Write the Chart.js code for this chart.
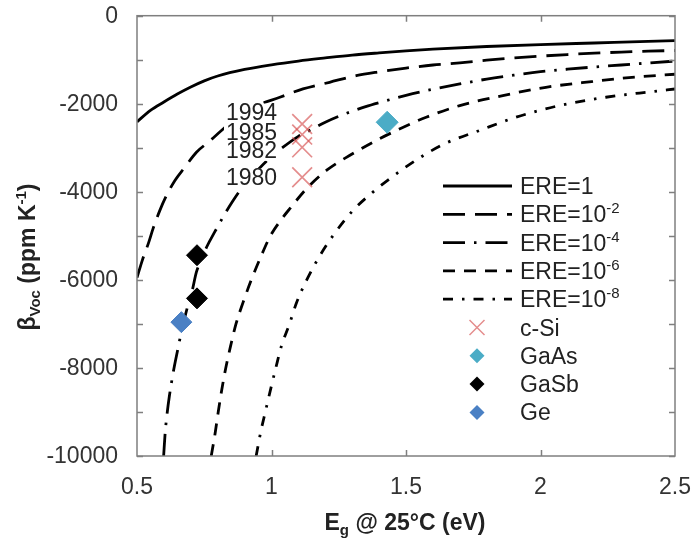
<!DOCTYPE html>
<html><head><meta charset="utf-8">
<script src="https://cdn.jsdelivr.net/npm/chart.js@4.4.1/dist/chart.umd.min.js"></script>
<style>html,body{margin:0;padding:0;background:#fff;}</style>
</head><body>
<canvas id="c" width="692" height="539"></canvas>
<script>
// ---- data ----
const xTicks = [0.5, 1, 1.5, 2, 2.5];
const xTickLabels = ['0.5', '1', '1.5', '2', '2.5'];
const yTicks = [-10000, -8000, -6000, -4000, -2000, 0];
const yTickLabels = ['-10000', '-8000', '-6000', '-4000', '-2000', '0'];
const yMinorTicks = [-9000, -7000, -5000, -3000, -1000];
const xMinorTicks = [1, 1.5, 2];

const ere0X = [0.5, 0.55, 0.6, 0.65, 0.7, 0.75, 0.8, 0.9, 1.0, 1.1, 1.2, 1.3, 1.4, 1.5, 1.6, 1.8, 2.0, 2.2, 2.4, 2.5];
const ere0Y = [-2410, -2150, -1960, -1780, -1620, -1480, -1370, -1220, -1115, -1030, -960, -895, -845, -800, -760, -700, -655, -620, -585, -567];

const ere2X = [0.5, 0.52, 0.542, 0.56, 0.585, 0.61, 0.641, 0.678, 0.721, 0.765, 0.814, 0.87, 0.932, 1.031, 1.117, 1.216, 1.315, 1.4, 1.5, 1.6, 1.7, 1.8, 1.9, 2.0, 2.1, 2.2, 2.3, 2.4, 2.5];
const ere2Y = [-5950, -5550, -5177, -4830, -4422, -4080, -3741, -3440, -3100, -2873, -2608, -2320, -2079, -1852, -1663, -1512, -1361, -1275, -1190, -1120, -1070, -1010, -960, -918, -882, -852, -826, -806, -790];

const ere4X = [0.599, 0.605, 0.612, 0.620, 0.635, 0.651, 0.665, 0.690, 0.705, 0.721, 0.740, 0.759, 0.790, 0.823, 0.855, 0.888, 0.95, 1.0, 1.043, 1.1, 1.15, 1.2, 1.25, 1.3, 1.35, 1.4, 1.5, 1.6, 1.7, 1.8, 1.9, 2.0, 2.1, 2.2, 2.3, 2.4, 2.5];
const ere4Y = [-10000, -9450, -9030, -8655, -8090, -7596, -7180, -6560, -6250, -5820, -5540, -5254, -4900, -4540, -4220, -3930, -3500, -3200, -2986, -2740, -2580, -2420, -2285, -2170, -2065, -1975, -1810, -1670, -1550, -1440, -1350, -1272, -1215, -1165, -1120, -1075, -1030];

const ere6X = [0.776, 0.79, 0.802, 0.815, 0.83, 0.848, 0.868, 0.895, 0.925, 0.96, 0.996, 1.04, 1.068, 1.13, 1.204, 1.29, 1.40, 1.49, 1.575, 1.70, 1.86, 2.02, 2.19, 2.34, 2.50];
const ere6Y = [-10000, -9500, -9000, -8500, -8000, -7500, -7000, -6500, -6000, -5480, -5000, -4600, -4383, -3930, -3515, -3175, -2800, -2533, -2306, -2041, -1814, -1626, -1497, -1399, -1330];

const ere8X = [0.943, 0.96, 0.977, 1.0, 1.016, 1.037, 1.067, 1.093, 1.131, 1.175, 1.228, 1.303, 1.377, 1.464, 1.545, 1.643, 1.773, 1.909, 2.07, 2.243, 2.416, 2.5];
const ere8Y = [-10000, -9450, -9000, -8400, -8000, -7500, -7000, -6520, -6000, -5500, -5000, -4422, -4006, -3590, -3250, -2910, -2608, -2306, -2041, -1852, -1723, -1665];

const csiX = [1.114, 1.114, 1.114, 1.114];
const csiY = [-2460, -2700, -2990, -3670];
const csiYears = ['1994', '1985', '1982', '1980'];
const csiYearLabelY = [-2200, -2650, -3070, -3680];

const gaasX = [1.43];
const gaasY = [-2420];
const gasbX = [0.723, 0.723];
const gasbY = [-5440, -6420];
const geX = [0.665];
const geY = [-6960];

const curveNames = ['ERE=1', 'ERE=10', 'ERE=10', 'ERE=10', 'ERE=10'];
const curveSups = ['', '-2', '-4', '-6', '-8'];
const markerNames = ['c-Si', 'GaAs', 'GaSb', 'Ge'];

const xTitle = [['E', 'b'], ['g', 'sub'], [' @ 25°C (eV)', 'b']];
const yTitle = [['β', 'b'], ['Voc', 'sub'], [' (ppm K', 'b'], ['-1', 'sup'], [')', 'b']];

// ---- styles ----
const FONT = '"Liberation Sans", Arial, sans-serif';
const dashes = [[], [22, 10], [22, 9, 2.5, 9], [12, 9], [10, 9, 2.5, 9]];
const LW = 2.8;
const crossColor = 'rgba(214, 80, 80, 0.65)';
const gaasColor = '#4bacc6';
const gasbColor = '#000000';
const geColor = '#4a80c4';

const pts = (xs, ys) => xs.map((x, i) => ({x: x, y: ys[i]}));
const curveXs = [ere0X, ere2X, ere4X, ere6X, ere8X];
const curveYs = [ere0Y, ere2Y, ere4Y, ere6Y, ere8Y];

const datasets = [];
curveXs.forEach((xs, i) => {
  datasets.push({
    label: curveNames[i] + curveSups[i],
    data: pts(xs, curveYs[i]),
    showLine: true, borderColor: '#000', borderWidth: LW, borderDash: dashes[i],
    borderCapStyle: 'butt', pointRadius: 0, cubicInterpolationMode: 'monotone', order: 2
  });
});
datasets.push({label: 'c-Si', data: pts(csiX, csiY), showLine: false, pointStyle: 'crossRot', pointRadius: 14,
  borderColor: crossColor, backgroundColor: crossColor, pointBorderWidth: 1.7, order: 1});
datasets.push({label: 'GaAs', data: pts(gaasX, gaasY), showLine: false, pointStyle: 'rectRot', pointRadius: 11,
  borderColor: gaasColor, backgroundColor: gaasColor, pointBorderWidth: 1, order: 1});
datasets.push({label: 'GaSb', data: pts(gasbX, gasbY), showLine: false, pointStyle: 'rectRot', pointRadius: 10.5,
  borderColor: gasbColor, backgroundColor: gasbColor, pointBorderWidth: 1, order: 1});
datasets.push({label: 'Ge', data: pts(geX, geY), showLine: false, pointStyle: 'rectRot', pointRadius: 10.5,
  borderColor: geColor, backgroundColor: geColor, pointBorderWidth: 1, order: 1});

function fontFor(kind) {
  if (kind === 'b') return 'bold 23px ' + FONT;
  if (kind === 'sub' || kind === 'sup') return 'bold 15px ' + FONT;
  if (kind === 'n') return '23px ' + FONT;
  return '15px ' + FONT;
}
function drawRuns(ctx, runs, x, y, align) {
  let total = 0;
  const ws = runs.map(r => { ctx.font = fontFor(r[1]); const w = ctx.measureText(r[0]).width; total += w; return w; });
  let cx = align === 'center' ? x - total / 2 : (align === 'right' ? x - total : x);
  ctx.textAlign = 'left';
  ctx.textBaseline = 'alphabetic';
  runs.forEach((r, i) => {
    ctx.font = fontFor(r[1]);
    const dy = r[1] === 'sub' ? 5 : (r[1] === 'sup' || r[1] === 'nsup' ? -9 : 0);
    ctx.fillText(r[0], cx, y + dy);
    cx += ws[i];
  });
}

const decor = {
  id: 'decor',
  afterDatasetsDraw(chart) {
    const ctx = chart.ctx, xs = chart.scales.x, ys = chart.scales.y;
    // year labels with white boxes
    ctx.save();
    ctx.font = '23px ' + FONT;
    csiYears.forEach((t, i) => {
      const px = xs.getPixelForValue(csiX[i]) - 25;
      const py = ys.getPixelForValue(csiYearLabelY[i]);
      const w = ctx.measureText(t).width;
      ctx.fillStyle = '#fff';
      ctx.fillRect(px - w - 2, py - 9, w + 4, 19);
    });
    ctx.fillStyle = '#222';
    ctx.textAlign = 'right';
    ctx.textBaseline = 'middle';
    csiYears.forEach((t, i) => {
      const px = xs.getPixelForValue(csiX[i]) - 25;
      const py = ys.getPixelForValue(csiYearLabelY[i]);
      ctx.fillText(t, px, py + 1);
    });
    ctx.restore();
  },
  afterDraw(chart) {
    const ctx = chart.ctx, a = chart.chartArea, xs = chart.scales.x, ys = chart.scales.y;
    ctx.save();
    // frame
    ctx.strokeStyle = '#7f7f7f';
    ctx.lineWidth = 1.5;
    ctx.strokeRect(a.left, a.top, a.right - a.left, a.bottom - a.top);
    // inward ticks
    ctx.beginPath();
    yTicks.concat(yMinorTicks).forEach(v => {
      const py = Math.round(ys.getPixelForValue(v)) + 0.5;
      ctx.moveTo(a.left, py); ctx.lineTo(a.left + 6, py);
      ctx.moveTo(a.right, py); ctx.lineTo(a.right - 6, py);
    });
    xMinorTicks.forEach(v => {
      const px = Math.round(xs.getPixelForValue(v)) + 0.5;
      ctx.moveTo(px, a.top); ctx.lineTo(px, a.top + 6);
      ctx.moveTo(px, a.bottom); ctx.lineTo(px, a.bottom - 6);
    });
    ctx.stroke();

    // tick labels
    ctx.fillStyle = '#333';
    ctx.font = '23px ' + FONT;
    ctx.textAlign = 'right';
    ctx.textBaseline = 'middle';
    yTicks.forEach((v, i) => ctx.fillText(yTickLabels[i], a.left - 19, ys.getPixelForValue(v) + 1));
    ctx.textAlign = 'center';
    xTicks.forEach((v, i) => ctx.fillText(xTickLabels[i], xs.getPixelForValue(v), a.bottom + 32));

    // legend
    const lx0 = 443, lx1 = 512, tx = 520, mx = 477, y0 = 186, dy = 28.3;
    ctx.lineCap = 'butt';
    curveNames.forEach((n, i) => {
      const y = y0 + i * dy;
      ctx.strokeStyle = '#000';
      ctx.lineWidth = LW;
      ctx.setLineDash(dashes[i]);
      ctx.beginPath(); ctx.moveTo(lx0, y); ctx.lineTo(lx1, y); ctx.stroke();
      ctx.setLineDash([]);
      ctx.fillStyle = '#222';
      const runs = [[n, 'n']];
      if (curveSups[i]) runs.push([curveSups[i], 'nsup']);
      drawRuns(ctx, runs, tx, y + 8, 'left');
    });
    const mcol = [crossColor, gaasColor, gasbColor, geColor];
    markerNames.forEach((n, i) => {
      const y = y0 + (5 + i) * dy;
      if (i === 0) {
        ctx.strokeStyle = crossColor; ctx.lineWidth = 1.5;
        ctx.beginPath();
        ctx.moveTo(mx - 7.5, y - 7.5); ctx.lineTo(mx + 7.5, y + 7.5);
        ctx.moveTo(mx - 7.5, y + 7.5); ctx.lineTo(mx + 7.5, y - 7.5);
        ctx.stroke();
      } else {
        ctx.fillStyle = mcol[i];
        ctx.beginPath();
        ctx.moveTo(mx, y - 7.5); ctx.lineTo(mx + 7.5, y); ctx.lineTo(mx, y + 7.5); ctx.lineTo(mx - 7.5, y);
        ctx.closePath(); ctx.fill();
      }
      ctx.fillStyle = '#222';
      drawRuns(ctx, [[n, 'n']], tx, y + 8, 'left');
    });

    // axis titles
    ctx.fillStyle = '#222';
    drawRuns(ctx, xTitle, 405, 530, 'center');
    ctx.translate(35, 257);
    ctx.rotate(-Math.PI / 2);
    drawRuns(ctx, yTitle, 0, 0, 'center');
    ctx.restore();
  }
};

new Chart(document.getElementById('c'), {
  type: 'scatter',
  data: {datasets: datasets},
  options: {
    responsive: false,
    animation: false,
    devicePixelRatio: 1,
    layout: {padding: {left: 0, right: 17, top: 15, bottom: 0}},
    plugins: {legend: {display: false}, tooltip: {enabled: false}},
    scales: {
      x: {
        type: 'linear', min: 0.5, max: 2.5,
        afterBuildTicks: s => { s.ticks = xTicks.map(v => ({value: v})); },
        afterFit: s => { s.height = 83; },
        grid: {display: false}, border: {display: false},
        ticks: {display: false}
      },
      y: {
        type: 'linear', min: -10000, max: 0,
        afterBuildTicks: s => { s.ticks = yTicks.map(v => ({value: v})); },
        afterFit: s => { s.width = 137; },
        grid: {display: false}, border: {display: false},
        ticks: {display: false}
      }
    }
  },
  plugins: [decor]
});
</script>
</body></html>
